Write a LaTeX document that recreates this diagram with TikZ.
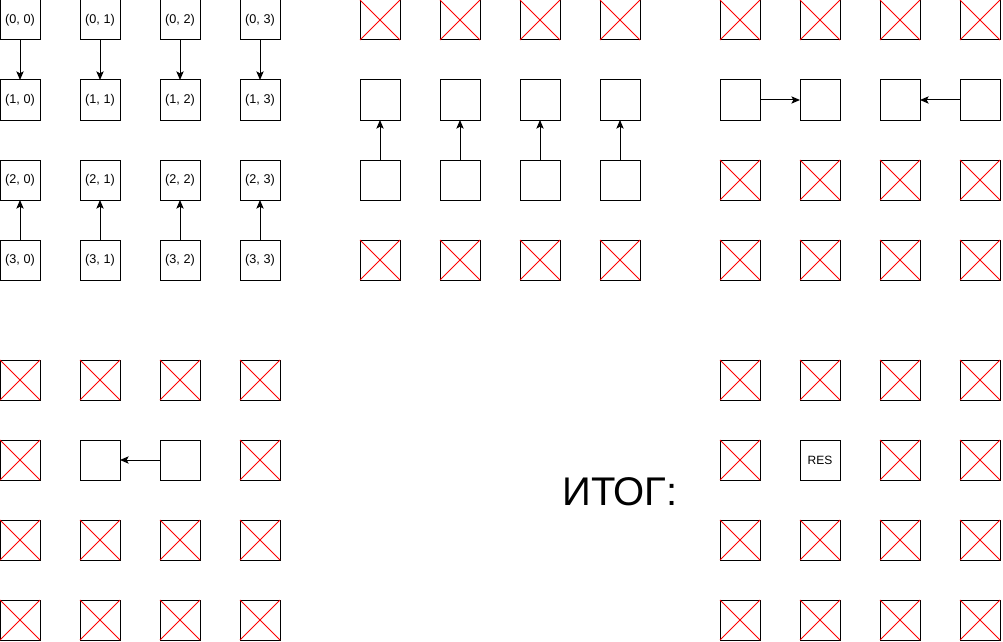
\documentclass[tikz,border=0pt]{standalone}
\usepackage{fontspec}
\setmainfont{Liberation Sans}
\usetikzlibrary{arrows.meta}
\newcommand{\crossit}[1]{\draw[xline] (#1.north west) -- (#1.south east) (#1.north east) -- (#1.south west);}
\begin{document}
\begin{tikzpicture}[x=0.75pt,y=-0.75pt,
  cell/.style={draw=black,line width=0.75pt,minimum width=30pt,minimum height=30pt,inner sep=0pt,outer sep=0pt,font=\fontsize{9.5}{11}\selectfont},
  xline/.style={red,line width=0.75pt},
  link/.style={line width=0.75pt,-{Stealth[length=6.5pt,width=5.5pt,inset=1.5pt]}}]
\useasboundingbox (0,0) rectangle (1003,642);
% Grid A
\foreach \r in {0,...,3}{\foreach \c in {0,...,3}{
  \node[cell] (A\r\c) at ({20+80*\c},{20+80*\r}) {(\r, \c)};
}}
\foreach \c in {0,...,3}{\draw[link] (A0\c) -- (A1\c); \draw[link] (A3\c) -- (A2\c);}
% Grid B
\foreach \r in {0,...,3}{\foreach \c in {0,...,3}{
  \node[cell] (B\r\c) at ({380+80*\c},{20+80*\r}) {};
  \ifnum\r=0 \crossit{B\r\c}\fi
  \ifnum\r=3 \crossit{B\r\c}\fi
}}
\foreach \c in {0,...,3}{\draw[link] (B2\c) -- (B1\c);}
% Grid C
\foreach \r in {0,...,3}{\foreach \c in {0,...,3}{
  \node[cell] (C\r\c) at ({740+80*\c},{20+80*\r}) {};
  \ifnum\r=1 \else \crossit{C\r\c}\fi
}}
\draw[link] (C10) -- (C11);
\draw[link] (C13) -- (C12);
% Grid D
\foreach \r in {0,...,3}{\foreach \c in {0,...,3}{
  \node[cell] (D\r\c) at ({20+80*\c},{380+80*\r}) {};
}}
\foreach \r/\c in {0/0,0/1,0/2,0/3,1/0,1/3,2/0,2/1,2/2,2/3,3/0,3/1,3/2,3/3}{\crossit{D\r\c}}
\draw[link] (D12) -- (D11);
% Grid E
\foreach \r in {0,...,3}{\foreach \c in {0,...,3}{
  \node[cell] (E\r\c) at ({740+80*\c},{380+80*\r}) {};
}}
\foreach \r/\c in {0/0,0/1,0/2,0/3,1/0,1/2,1/3,2/0,2/1,2/2,2/3,3/0,3/1,3/2,3/3}{\crossit{E\r\c}}
\node[font=\fontsize{9}{10}\selectfont] (res) at (E11) {RES};
% Label
\node[anchor=base,font=\fontsize{30}{36}\selectfont,inner sep=0pt] (itog) at (620,505) {ИТОГ:};
\end{tikzpicture}
\end{document}
